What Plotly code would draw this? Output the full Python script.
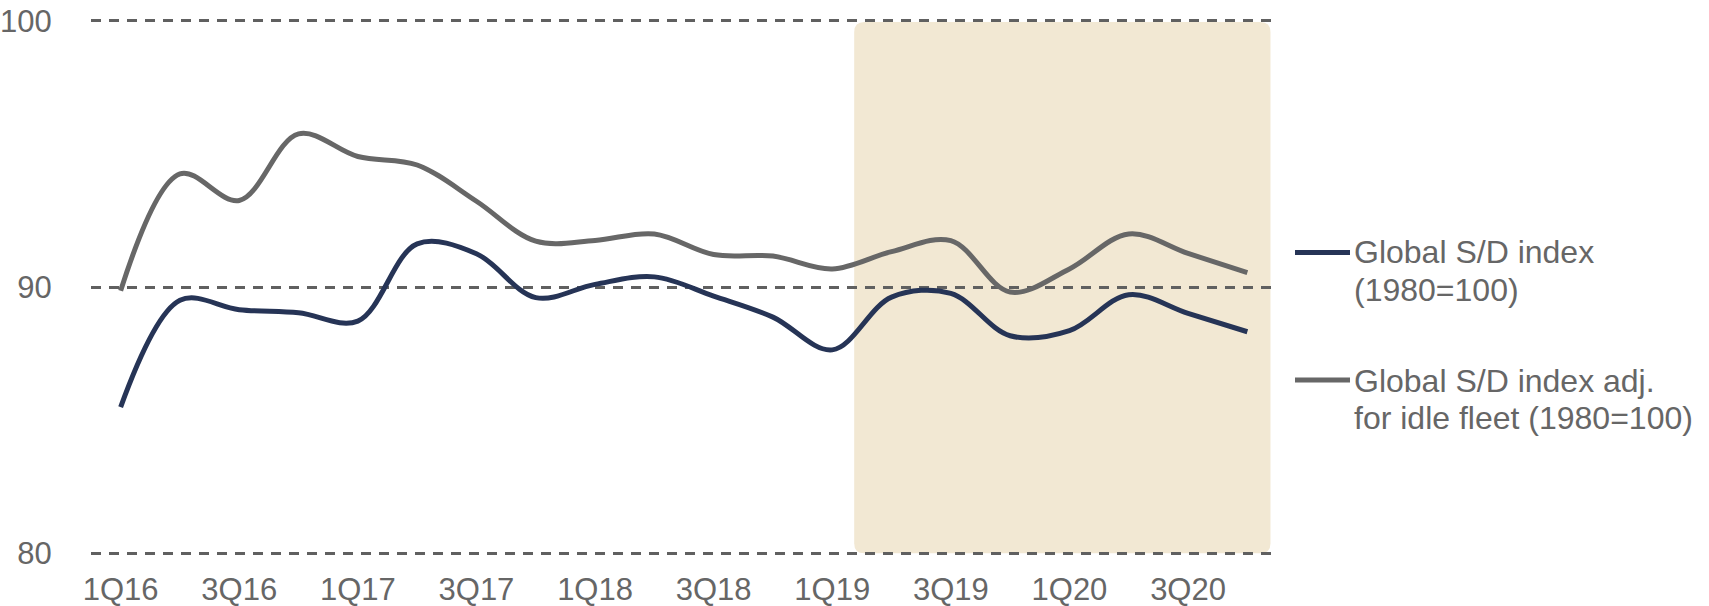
import plotly.graph_objects as go

quarters = ["1Q16", "2Q16", "3Q16", "4Q16", "1Q17", "2Q17", "3Q17", "4Q17",
            "1Q18", "2Q18", "3Q18", "4Q18", "1Q19", "2Q19", "3Q19", "4Q19",
            "1Q20", "2Q20", "3Q20", "4Q20"]
sd_index = [85.49, 89.50, 89.15, 89.03, 88.72, 91.62, 91.25, 89.60, 90.10, 90.38,
            89.66, 88.87, 87.64, 89.62, 89.76, 88.17, 88.36, 89.71, 89.01, 88.32]
sd_index_idle = [89.86, 94.25, 93.25, 95.75, 94.90, 94.58, 93.22, 91.72, 91.75, 91.99,
                 91.22, 91.16, 90.68, 91.33, 91.74, 89.81, 90.68, 91.99, 91.26, 90.54]
series_names = [["Global S/D index", "(1980=100)"],
                ["Global S/D index adj.", "for idle fleet (1980=100)"]]
series_colors = ["#263456", "#676767"]
y_ticks = [80, 90, 100]
shade_start, shade_end = 12.37, 19.39   # forecast band, in quarter index units

x = list(range(len(quarters)))
tick_idx = x[0:19:2]
tick_text = [quarters[i] for i in tick_idx]

FONT = "Arial, Liberation Sans, sans-serif"
TXT = "#666666"

# pixel geometry
PLOT_L, PLOT_R = 91, 1277
Y100, Y80 = 20.3, 553.5
PAD = 0.1
PXU = (Y80 - Y100) / 20.0
PLOT_W = PLOT_R - PLOT_L

fig = go.Figure()
for vals, name, col in zip([sd_index, sd_index_idle], series_names, series_colors):
    fig.add_trace(go.Scatter(x=x, y=vals, mode="lines", name=" ".join(name),
                             line=dict(color=col, width=5, shape="spline", smoothing=1.0),
                             showlegend=False, hoverinfo="skip"))

# rounded forecast band
x0, x1, y0, y1 = shade_start, shade_end, 80.0, 99.95
rx, ry = 0.17, 0.38
path = (f"M {x0+rx},{y0} L {x1-rx},{y0} Q {x1},{y0} {x1},{y0+ry} "
        f"L {x1},{y1-ry} Q {x1},{y1} {x1-rx},{y1} L {x0+rx},{y1} "
        f"Q {x0},{y1} {x0},{y1-ry} L {x0},{y0+ry} Q {x0},{y0} {x0+rx},{y0} Z")
fig.add_shape(type="path", path=path, xref="x", yref="y", fillcolor="#F2E8D3",
              line=dict(width=0), layer="below")

def px2paper(px):
    return (px - PLOT_L) / PLOT_W
def py2data(py):
    return 80 + (Y80 - py) / PXU

# custom legend
legend_rows = [(252.3, [252.0, 289.5]), (380.0, [380.5, 418.0])]
for (ly, text_ys), name, col in zip(legend_rows, series_names, series_colors):
    fig.add_shape(type="line", xref="paper", yref="y",
                  x0=px2paper(1295), x1=px2paper(1350), y0=py2data(ly), y1=py2data(ly),
                  line=dict(color=col, width=5))
    for line_text, ty in zip(name, text_ys):
        fig.add_annotation(text=line_text, xref="paper", yref="y",
                           x=px2paper(1352), y=py2data(ty), xanchor="left", yanchor="middle",
                           showarrow=False, font=dict(family=FONT, size=32, color=TXT))

fig.update_layout(
    width=1709, height=606,
    margin=dict(l=PLOT_L, r=1709 - PLOT_R, t=Y100 - PAD * PXU, b=606 - Y80 - PAD * PXU,
                autoexpand=False),
    paper_bgcolor="white", plot_bgcolor="rgba(0,0,0,0)",
    font=dict(family=FONT, size=31, color=TXT),
)
fig.update_xaxes(range=[-0.5, 19.5], tickvals=tick_idx, ticktext=tick_text,
                 showgrid=False, zeroline=False, showline=False, automargin=False,
                 ticks="outside", ticklen=5.5, tickcolor="rgba(0,0,0,0)",
                 tickfont=dict(family=FONT, size=31, color=TXT))
fig.update_yaxes(range=[80 - PAD, 100 + PAD], tickvals=y_ticks,
                 showgrid=True, gridcolor="#606060", gridwidth=2.5, griddash="10px,8px",
                 zeroline=False, showline=False, automargin=False,
                 ticks="outside", ticklen=32, tickcolor="rgba(0,0,0,0)",
                 tickfont=dict(family=FONT, size=31, color=TXT))

fig.write_html("out.html", config={"displayModeBar": False},
               post_script="document.documentElement.style.margin='0';"
                           "document.body.style.margin='0';"
                           "document.body.style.overflow='hidden';")
